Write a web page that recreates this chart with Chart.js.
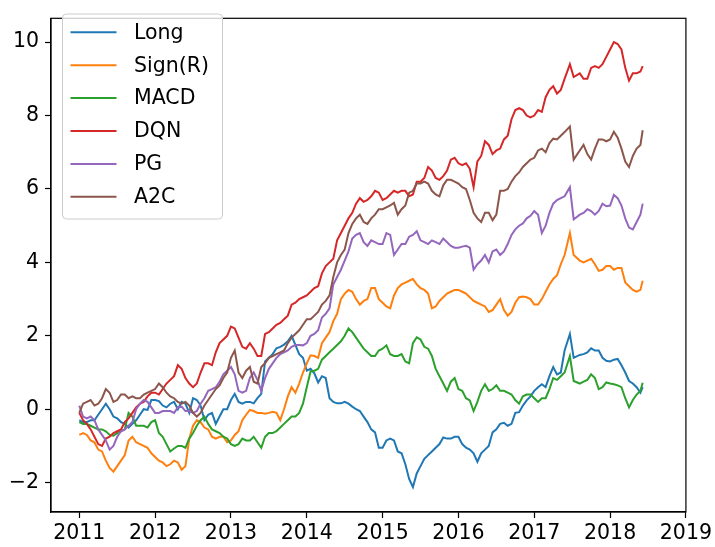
<!DOCTYPE html>
<html>
<head>
<meta charset="utf-8">
<script src="https://cdn.jsdelivr.net/npm/chart.js@4.4.1/dist/chart.umd.min.js"></script>
<style>
  html, body { margin: 0; padding: 0; background: #fff; }
  canvas { display: block; }
</style>
</head>
<body>
<canvas id="chart" width="715" height="547"></canvas>
<script>
// time axis (fractional years)
const years = [
  2011.00, 2011.05, 2011.10, 2011.15, 2011.20, 2011.25, 2011.30, 2011.35, 2011.40, 2011.45,
  2011.50, 2011.55, 2011.60, 2011.65, 2011.70, 2011.75, 2011.80, 2011.85, 2011.90, 2011.95,
  2012.00, 2012.05, 2012.10, 2012.15, 2012.20, 2012.25, 2012.30, 2012.35, 2012.40, 2012.45,
  2012.50, 2012.55, 2012.60, 2012.65, 2012.70, 2012.75, 2012.80, 2012.85, 2012.90, 2012.95,
  2013.00, 2013.05, 2013.10, 2013.15, 2013.20, 2013.25, 2013.30, 2013.35, 2013.40, 2013.45,
  2013.50, 2013.55, 2013.60, 2013.65, 2013.70, 2013.75, 2013.80, 2013.85, 2013.90, 2013.95,
  2014.00, 2014.05, 2014.10, 2014.15, 2014.20, 2014.25, 2014.30, 2014.35, 2014.40, 2014.45,
  2014.50, 2014.55, 2014.60, 2014.65, 2014.70, 2014.75, 2014.80, 2014.85, 2014.90, 2014.95,
  2015.00, 2015.05, 2015.10, 2015.15, 2015.20, 2015.25, 2015.30, 2015.35, 2015.40, 2015.45,
  2015.50, 2015.55, 2015.60, 2015.65, 2015.70, 2015.75, 2015.80, 2015.85, 2015.90, 2015.95,
  2016.00, 2016.05, 2016.10, 2016.15, 2016.20, 2016.25, 2016.30, 2016.35, 2016.40, 2016.45,
  2016.50, 2016.55, 2016.60, 2016.65, 2016.70, 2016.75, 2016.80, 2016.85, 2016.90, 2016.95,
  2017.00, 2017.05, 2017.10, 2017.15, 2017.20, 2017.25, 2017.30, 2017.35, 2017.40,
  2017.47, 2017.52, 2017.60, 2017.65, 2017.70, 2017.75, 2017.80, 2017.85, 2017.90, 2017.95,
  2018.00, 2018.05, 2018.10, 2018.15, 2018.20, 2018.25, 2018.30, 2018.35, 2018.40, 2018.43
];

const longVals = [
  -0.3, -0.35, -0.35, -0.3, -0.3, -0.15, 0.0, 0.15, 0.0, -0.2,
  -0.25, -0.35, -0.4, -0.5, -0.4, -0.3, -0.15, 0.0, -0.02, 0.25,
  0.25, 0.22, 0.1, 0.05, 0.15, 0.2, 0.0, 0.2, 0.15, -0.1,
  0.3, 0.25, 0.1, -0.3, -0.15, -0.1, -0.4, -0.2, 0.0, 0.0,
  0.25, 0.42, 0.2, 0.15, 0.2, 0.2, 0.16, 0.3, 0.42, 1.3,
  1.4, 1.5, 1.66, 1.7, 1.76, 1.85, 2.0, 1.75, 1.5, 1.4,
  1.05, 1.1, 0.98, 0.73, 0.9, 0.85, 0.3, 0.2, 0.16, 0.16,
  0.2, 0.15, 0.07, 0.0, -0.05, -0.2, -0.35, -0.55, -0.63, -1.05,
  -1.05, -0.85, -0.8, -0.85, -1.15, -1.2, -1.5, -1.9, -2.12, -1.75,
  -1.55, -1.35, -1.25, -1.15, -1.05, -0.95, -0.77, -0.8, -0.8, -0.75,
  -0.75, -0.95, -1.05, -1.1, -1.2, -1.43, -1.2, -1.1, -1.0, -0.63,
  -0.55, -0.4, -0.37, -0.45, -0.4, -0.1, -0.08, 0.1, 0.24, 0.35,
  0.5, 0.6, 0.68, 0.6, 0.9, 1.15, 0.95, 1.0, 1.6,
  2.05, 1.4, 1.48, 1.5, 1.55, 1.66, 1.6, 1.6, 1.4, 1.32,
  1.3, 1.35, 1.37, 1.2, 1.0, 0.77, 0.7, 0.6, 0.45, 0.6
];

const signVals = [
  -0.7, -0.65, -0.7, -0.85, -0.9, -1.1, -1.15, -1.4, -1.6, -1.7,
  -1.55, -1.4, -1.25, -0.85, -0.75, -0.9, -0.95, -1.0, -1.05, -1.2,
  -1.3, -1.4, -1.45, -1.55, -1.5, -1.4, -1.45, -1.65, -1.55, -0.8,
  -0.45, -0.3, -0.35, -0.5, -0.55, -0.75, -0.8, -0.75, -0.75, -0.9,
  -0.85, -0.7, -0.6, -0.3, -0.15, -0.02, -0.05, -0.1, -0.1, -0.12,
  -0.1, -0.07, -0.1, -0.3, 0.0, 0.35, 0.6, 0.45, 0.7, 1.0,
  1.25, 1.47, 1.45, 1.4, 1.8, 1.95, 2.1, 2.4, 2.6, 3.0,
  3.15, 3.25, 3.2, 3.0, 2.85, 2.95, 3.0, 3.3, 3.3, 3.0,
  2.9, 2.8, 2.75, 3.1, 3.3, 3.4, 3.45, 3.5, 3.55, 3.4,
  3.3, 3.25, 3.15, 2.75, 2.8, 2.95, 3.05, 3.15, 3.2, 3.25,
  3.25, 3.2, 3.15, 3.05, 2.95, 2.9, 2.85, 2.8, 2.65, 2.7,
  2.85, 3.0, 2.7, 2.55, 2.65, 2.9, 3.05, 3.07, 3.05, 3.0,
  2.85, 2.85, 3.0, 3.2, 3.4, 3.55, 3.65, 3.95, 4.2,
  4.8, 4.2, 4.05, 4.0, 4.05, 4.1, 3.95, 3.77, 3.8, 3.9,
  3.9, 3.8, 3.85, 3.85, 3.45, 3.35, 3.25, 3.2, 3.25, 3.5
];

const macdVals = [
  -0.35, -0.4, -0.4, -0.45, -0.5, -0.55, -0.55, -0.6, -0.7, -0.72,
  -0.65, -0.6, -0.55, -0.1, -0.2, -0.45, -0.45, -0.45, -0.5, -0.35,
  -0.3, -0.65, -0.75, -0.95, -1.15, -1.07, -1.0, -1.0, -1.05, -0.8,
  -0.65, -0.45, -0.3, -0.2, -0.4, -0.55, -0.6, -0.65, -0.75, -0.8,
  -0.95, -1.0, -0.95, -0.8, -0.85, -0.85, -0.75, -0.9, -1.05, -0.75,
  -0.65, -0.65, -0.6, -0.5, -0.4, -0.3, -0.2, -0.2, -0.1, 0.15,
  0.6, 1.03, 1.05, 1.1, 1.35, 1.45, 1.55, 1.65, 1.75, 1.85,
  2.0, 2.2, 2.1, 1.95, 1.8, 1.65, 1.55, 1.45, 1.45, 1.6,
  1.65, 1.74, 1.5, 1.45, 1.45, 1.5, 1.3, 1.25, 1.8, 1.96,
  1.9, 1.7, 1.65, 1.45, 1.1, 0.9, 0.7, 0.5, 0.75, 0.85,
  0.55, 0.5, 0.3, 0.24, -0.05, 0.2, 0.5, 0.68, 0.5, 0.55,
  0.65, 0.5, 0.5, 0.45, 0.4, 0.25, 0.15, 0.35, 0.4, 0.4,
  0.3, 0.2, 0.3, 0.3, 0.55, 0.85, 0.8, 0.9, 1.0,
  1.45, 0.77, 0.7, 0.75, 0.8, 0.95, 0.85, 0.55, 0.6, 0.73,
  0.7, 0.68, 0.65, 0.6, 0.3, 0.05, 0.25, 0.4, 0.5, 0.72
];

const dqnVals = [
  -0.1, -0.3, -0.4, -0.55, -0.75, -0.95, -1.0, -0.8, -0.75, -0.65,
  -0.6, -0.55, -0.35, -0.25, -0.1, 0.05, 0.15, 0.2, 0.35, 0.45,
  0.45, 0.4, 0.55, 0.7, 0.8, 0.9, 1.2, 1.1, 0.85, 0.7,
  0.6, 0.7, 1.0, 1.25, 1.25, 1.2, 1.55, 1.8, 1.9, 2.0,
  2.25, 2.2, 1.95, 1.7, 1.65, 1.8, 1.65, 1.45, 1.45, 2.05,
  2.1, 2.2, 2.3, 2.35, 2.45, 2.55, 2.85, 2.9, 3.0, 3.05,
  3.1, 3.2, 3.3, 3.35, 3.7, 3.9, 4.0, 4.1, 4.6, 4.8,
  5.0, 5.2, 5.35, 5.6, 5.75, 5.65, 5.7, 5.8, 5.95, 5.9,
  5.7, 5.75, 5.85, 5.95, 5.9, 5.95, 5.95, 5.8, 5.85, 6.2,
  6.2, 6.3, 6.6, 6.5, 6.3, 6.25, 6.35, 6.5, 6.8, 6.85,
  6.7, 6.65, 6.7, 6.55, 6.05, 6.75, 6.9, 7.3, 7.2, 6.95,
  7.05, 7.1, 7.35, 7.45, 7.9, 8.15, 8.2, 8.15, 8.0, 7.95,
  8.0, 8.15, 8.1, 8.5, 8.7, 8.8, 8.6, 8.7, 9.0,
  9.4, 9.05, 9.15, 9.0, 9.0, 9.3, 9.35, 9.3, 9.4, 9.6,
  9.8, 10.0, 9.95, 9.8, 9.3, 8.95, 9.15, 9.15, 9.2, 9.35
];

const pgVals = [
  0.1, -0.2, -0.25, -0.2, -0.3, -0.55, -0.7, -0.85, -1.1, -1.0,
  -0.75, -0.6, -0.55, -0.45, -0.35, 0.0, 0.15, 0.25, 0.2, 0.05,
  -0.1, -0.1, -0.05, -0.05, -0.05, -0.1, 0.05, 0.07, -0.05, -0.05,
  -0.1, -0.05, 0.15, 0.3, 0.5, 0.55, 0.6, 0.75, 0.95, 1.05,
  1.15, 0.95, 0.5, 0.45, 0.5, 0.85, 1.0, 0.8, 0.5, 0.85,
  1.1, 1.25, 1.4, 1.5, 1.55, 1.6, 1.7, 1.75, 1.75, 1.74,
  1.8, 2.0, 2.05, 2.15, 2.5, 2.6, 2.75, 3.4, 3.6, 3.8,
  4.05, 4.3, 4.65, 4.75, 4.8, 4.55, 4.45, 4.6, 4.55, 4.5,
  4.5, 4.8, 4.75, 4.2, 4.35, 4.5, 4.5, 4.7, 4.75, 4.85,
  4.6, 4.55, 4.5, 4.6, 4.55, 4.5, 4.65, 4.55, 4.45, 4.4,
  4.4, 4.43, 4.45, 4.4, 3.8, 3.95, 4.05, 4.2, 4.0, 4.3,
  4.35, 4.2, 4.3, 4.5, 4.75, 4.9, 5.0, 5.06, 5.2, 5.27,
  5.4, 5.3, 4.8, 5.0, 5.35, 5.6, 5.7, 5.75, 5.8,
  6.05, 5.17, 5.3, 5.35, 5.45, 5.4, 5.3, 5.4, 5.6, 5.53,
  5.55, 5.84, 5.75, 5.55, 5.2, 4.95, 4.9, 5.1, 5.3, 5.6
];

const a2cVals = [
  -0.1, 0.15, 0.2, 0.25, 0.1, 0.15, 0.3, 0.55, 0.45, 0.2,
  0.25, 0.4, 0.4, 0.3, 0.35, 0.3, 0.3, 0.4, 0.45, 0.5,
  0.55, 0.7, 0.6, 0.45, 0.35, 0.3, 0.2, 0.15, 0.2, 0.1,
  -0.1, -0.2, -0.1, 0.1, 0.25, 0.4, 0.55, 0.65, 0.85, 1.0,
  1.4, 1.6, 1.0, 0.85, 1.05, 1.15, 0.75, 0.7, 1.15, 1.25,
  1.4, 1.45, 1.5, 1.55, 1.6, 1.8, 1.95, 2.05, 2.15, 2.3,
  2.45, 2.45, 2.55, 2.65, 2.85, 2.95, 3.1, 3.6, 4.0, 4.2,
  4.35, 4.8, 5.05, 5.2, 5.3, 5.1, 5.05, 5.2, 5.3, 5.45,
  5.45, 5.5, 5.55, 5.62, 5.3, 5.45, 5.55, 5.9, 5.95, 6.15,
  6.15, 6.2, 6.15, 5.95, 5.85, 5.8, 6.1, 6.25, 6.25, 6.2,
  6.15, 6.05, 6.0, 5.7, 5.35, 5.2, 5.1, 5.35, 5.35, 5.15,
  5.3, 5.95, 5.95, 6.0, 6.2, 6.35, 6.45, 6.6, 6.7, 6.8,
  6.85, 7.05, 7.1, 7.0, 7.25, 7.37, 7.35, 7.45, 7.55,
  7.7, 6.8, 7.05, 7.2, 6.95, 6.8, 7.1, 7.35, 7.35, 7.3,
  7.35, 7.56, 7.4, 7.1, 6.75, 6.6, 6.9, 7.1, 7.2, 7.6
];

const seriesNames = ['Long', 'Sign(R)', 'MACD', 'DQN', 'PG', 'A2C'];
const seriesValues = [longVals, signVals, macdVals, dqnVals, pgVals, a2cVals];
const seriesColors = ['#1f77b4', '#ff7f0e', '#2ca02c', '#d62728', '#9467bd', '#8c564b'];

const xTicks = [2011, 2012, 2013, 2014, 2015, 2016, 2017, 2018, 2019];
const yTicks = [-2, 0, 2, 4, 6, 8, 10];

const FONT = 'DejaVu Sans';

// box around the plot area (matplotlib spines)
const frame = {
  id: 'frame',
  afterDatasetsDraw(chart) {
    const { ctx, chartArea: a } = chart;
    ctx.save();
    ctx.strokeStyle = '#000';
    ctx.lineWidth = 1.2;
    ctx.strokeRect(a.left, a.top, a.right - a.left, a.bottom - a.top);
    ctx.restore();
  }
};

// legend in the upper left corner, drawn over the lines
const cornerLegend = {
  id: 'cornerLegend',
  afterDraw(chart) {
    const ctx = chart.ctx;
    const x = 62.5, y = 14, w = 160, h = 205, r = 4;
    ctx.save();
    ctx.beginPath();
    ctx.roundRect(x, y, w, h, r);
    ctx.fillStyle = 'rgba(255,255,255,0.8)';
    ctx.fill();
    ctx.strokeStyle = '#cccccc';
    ctx.lineWidth = 1;
    ctx.stroke();
    ctx.font = '20.5px "' + FONT + '"';
    ctx.textBaseline = 'middle';
    seriesNames.forEach((name, i) => {
      const ly = 32.3 + i * 32.9;
      ctx.strokeStyle = seriesColors[i];
      ctx.lineWidth = 2;
      ctx.beginPath();
      ctx.moveTo(70.5, ly);
      ctx.lineTo(116.5, ly);
      ctx.stroke();
      ctx.fillStyle = '#000';
      ctx.fillText(name, 134, ly + 1);
    });
    ctx.restore();
  }
};

const fmt = v => (v < 0 ? '\u2212' + Math.abs(v) : String(v));

new Chart(document.getElementById('chart'), {
  type: 'line',
  data: {
    datasets: seriesNames.map((name, i) => ({
      label: name,
      data: years.map((t, k) => ({ x: t, y: seriesValues[i][k] })),
      borderColor: seriesColors[i],
      borderWidth: 2,
      pointRadius: 0,
      tension: 0,
      fill: false,
      order: seriesNames.length - i
    }))
  },
  options: {
    responsive: false,
    animation: false,
    layout: { padding: { top: 3, right: 29, left: 0, bottom: 0 } },
    plugins: { legend: { display: false }, tooltip: { enabled: false } },
    scales: {
      x: {
        type: 'linear',
        min: 2010.627,
        max: 2019,
        afterBuildTicks: s => { s.ticks = xTicks.map(v => ({ value: v })); },
        afterFit: s => { s.height = 35; },
        ticks: { color: '#000', font: { family: FONT, size: 20.5 }, padding: 3, maxRotation: 0, callback: v => String(v) },
        grid: { drawOnChartArea: false, drawTicks: true, tickLength: 6, tickColor: '#000', tickWidth: 1.2 },
        border: { display: true, color: '#000', width: 1.2 }
      },
      y: {
        min: -2.8,
        max: 10.65,
        afterBuildTicks: s => { s.ticks = yTicks.map(v => ({ value: v })); },
        afterFit: s => { s.width = 51; },
        ticks: { color: '#000', font: { family: FONT, size: 20.5 }, padding: 6, callback: fmt },
        grid: { drawOnChartArea: false, drawTicks: true, tickLength: 6, tickColor: '#000', tickWidth: 1.2 },
        border: { display: true, color: '#000', width: 1.2 }
      }
    }
  },
  plugins: [frame, cornerLegend]
});
</script>
</body>
</html>
